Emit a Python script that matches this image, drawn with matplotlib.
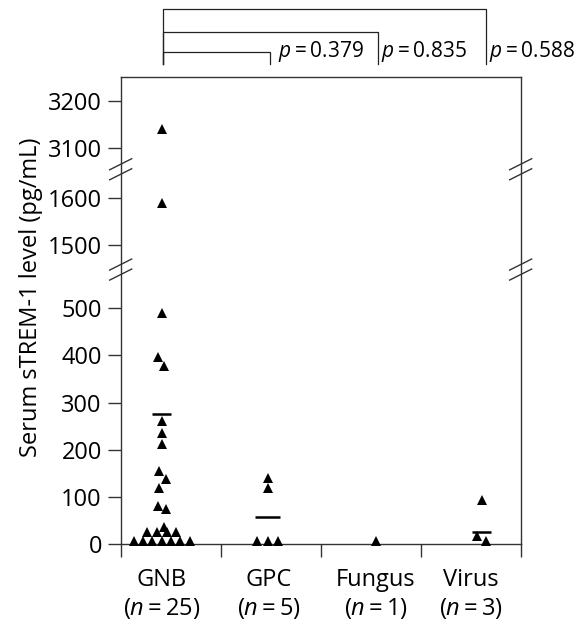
import numpy as np
import matplotlib
matplotlib.use("Agg")
import matplotlib.pyplot as plt
from matplotlib.transforms import blended_transform_factory

plt.rcParams['font.family'] = ['Open Sans', 'DejaVu Sans']
plt.rcParams['mathtext.fontset'] = 'custom'
plt.rcParams['mathtext.rm'] = 'Open Sans'
plt.rcParams['mathtext.it'] = 'Open Sans:italic'

# data
groups = ["GNB", "GPC", "Fungus", "Virus"]
counts = [25, 5, 1, 3]
gnb = [3140, 1590, 490, 397, 378, 262, 236, 213, 156, 139, 120, 82, 74, 38,
       27, 27, 27, 27, 8, 8, 8, 8, 8, 8, 8]
gpc = [141, 120, 8, 8, 8]
fungus = [8]
virus = [93, 17, 7]
mean_lines = [276, 59, None, 26]
p_values = ["0.379", "0.835", "0.588"]
ytick_vals = [0, 100, 200, 300, 400, 500, 1500, 1600, 3100, 3200]

# layout: x position of each group, jitter of points inside a group
grp_x = [0.41, 1.47, 2.555, 3.61]
lab_x = [0.41, 1.48, 2.55, 3.50]
jitter = [
    [0, 0, 0, -0.04, 0.02, 0, 0, 0, -0.03, 0.04, -0.03, -0.04, 0.04, 0.02,
     -0.145, -0.047, 0.05, 0.145, -0.28, -0.187, -0.093, 0, 0.093, 0.187, 0.28],
    [0, 0, -0.105, 0, 0.1],
    [0],
    [0, -0.05, 0.045],
]
mean_half = [0.095, 0.125, 0, 0.095]

# broken axis: 0-581 | 1449-1661 | 3055-3251 squeezed together
def fwd(v):
    v = np.asarray(v, float)
    return np.where(v < 1000, v, np.where(v < 2500, 581 + (v - 1449), 793 + (v - 3055)))

def inv(t):
    t = np.asarray(t, float)
    return np.where(t <= 581, t, np.where(t <= 793, 1449 + (t - 581), 3055 + (t - 793)))

fig = plt.figure(figsize=(5.78, 6.2), dpi=100)
ax = fig.add_axes([0.2088, 0.1218, 0.692, 0.7548])
ax.set_yscale('function', functions=(fwd, inv))
ax.set_ylim(0, 3251)
ax.set_xlim(0, 4)

for i, vals in enumerate([gnb, gpc, fungus, virus]):
    xs = np.array(jitter[i]) + grp_x[i]
    ax.plot(xs, vals, '^', color='black', markersize=7.3, markeredgewidth=0,
            clip_on=False, zorder=3)
    if mean_lines[i] is not None:
        ax.plot([grp_x[i] - mean_half[i], grp_x[i] + mean_half[i]],
                [mean_lines[i], mean_lines[i]], color='black', lw=1.8,
                solid_capstyle='butt', zorder=3)

for s in ax.spines.values():
    s.set_color('#333333')
    s.set_linewidth(1.0)

ax.set_yticks(ytick_vals)
ax.set_yticklabels([str(v) for v in ytick_vals])
ax.tick_params(axis='y', length=9.5, width=1, color='#333333', pad=4, labelsize=17)

ax.set_xticks([0, 1, 2, 3, 4])
ax.set_xticklabels([])
ax.tick_params(axis='x', which='major', length=9.5, width=1, color='#333333')
ax.set_xticks(lab_x, minor=True)
ax.set_xticklabels([f"{g}\n$(n=${c}$)$" for g, c in zip(groups, counts)], minor=True,
                   linespacing=1.22)
ax.tick_params(axis='x', which='minor', length=0, pad=17, labelsize=17)

ax.set_ylabel("Serum sTREM-1 level (pg/mL)", fontsize=17)
ax.yaxis.set_label_coords(-0.195, 0.528)

# break marks on both side spines
t_top = float(fwd(3251))
for tb in [581, 793]:
    yb = tb / t_top
    for xs in [0, 1]:
        for d in [-0.0107, 0.0107]:
            ax.plot([xs - 0.0275, xs + 0.0275], [yb + d - 0.0118, yb + d + 0.0118],
                    transform=ax.transAxes, color='#333333', lw=1.0, clip_on=False)

# comparison brackets above the plot
tr = blended_transform_factory(ax.transData, fig.transFigure)
left_x = 0.423
right_x = [1.49, 2.577, 3.65]
bar_y = [52.3, 31.7, 9.3]
txt_x = [1.57, 2.607, 3.683]
for rx, by, tx, p in zip(right_x, bar_y, txt_x, p_values):
    yb = 1 - by / 620
    ylow = 1 - 64 / 620
    ax.plot([left_x, left_x, rx, rx], [ylow, yb, yb, ylow], transform=tr,
            color='#222222', lw=0.9, clip_on=False)
    ax.text(tx, 1 - 56.7 / 620, f"$p=${p}", transform=tr, fontsize=15,
            ha='left', va='baseline')

fig.savefig("out.png", dpi=100)
